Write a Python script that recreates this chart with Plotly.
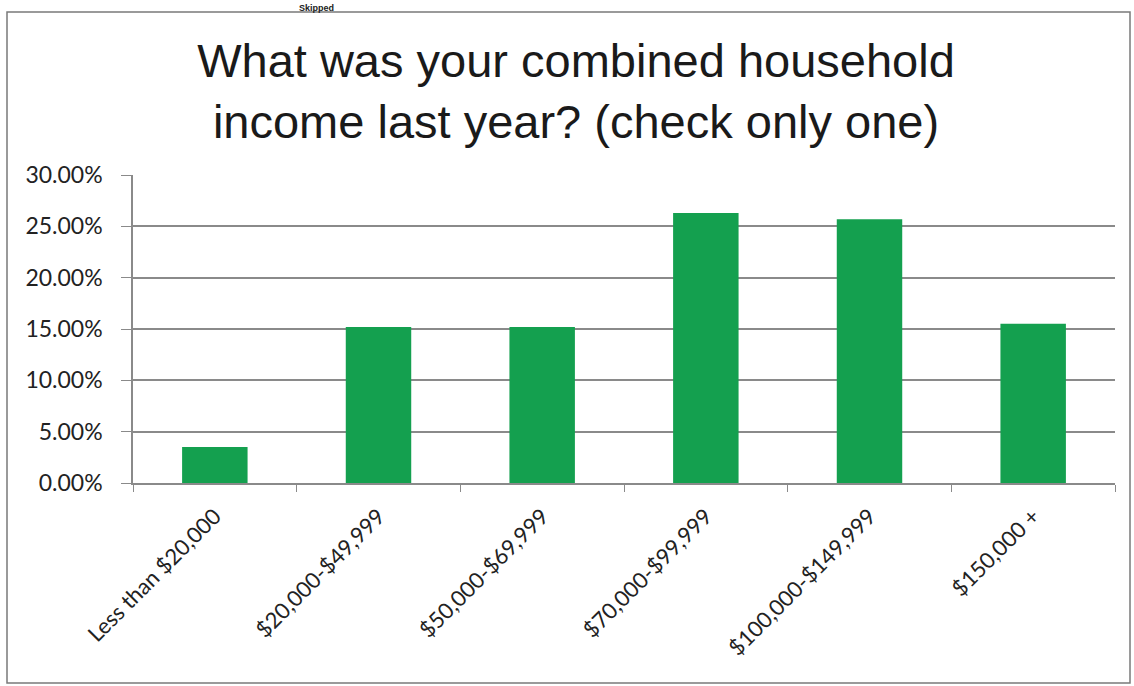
import plotly.graph_objects as go

categories = ["Less than $20,000", "$20,000-$49,999", "$50,000-$69,999",
              "$70,000-$99,999", "$100,000-$149,999", "$150,000 +"]
values = [0.035, 0.152, 0.152, 0.263, 0.257, 0.155]
y_ticks = [0, 0.05, 0.10, 0.15, 0.20, 0.25, 0.30]
title_text = "What was your combined household<br>income last year? (check only one)"

W, H = 1134, 686
L, R, T, B = 133, 19, 175, 203
pw, ph = W - L - R, H - T - B

def px_x(p):
    return (p - L) / pw

def px_y(p):
    return (H - B - p) / ph

fig = go.Figure(go.Bar(x=categories, y=values, marker=dict(color="#14A04F", line=dict(width=0)),
                       width=0.4))

fig.update_layout(
    width=W, height=H,
    margin=dict(l=L, r=R, t=T, b=B),
    paper_bgcolor="white", plot_bgcolor="white",
    showlegend=False,
    font=dict(family="Lato, Carlito, sans-serif", color="#222222"),
    title=dict(text=title_text, x=576 / W, xref="container", xanchor="center",
               y=1 - 77 / H, yanchor="middle",
               font=dict(family="Liberation Sans, Arial, sans-serif", size=47, color="#1a1a1a")),
    shapes=[dict(type="rect", xref="paper", yref="paper",
                 x0=px_x(7), x1=px_x(1130), y0=px_y(683), y1=px_y(12),
                 line=dict(color="#7a7a7a", width=1.5), layer="below")],
    annotations=[dict(text="<b>Skipped</b>", xref="paper", yref="paper",
                      x=px_x(316), y=px_y(1.5), xanchor="center", yanchor="top",
                      borderpad=0, showarrow=False,
                      font=dict(family="Liberation Sans, Arial", size=9, color="#222"))],
)

fig.update_yaxes(range=[0, 0.30], tickvals=y_ticks, tickformat=".2%",
                 showgrid=True, gridcolor="#8a8a8a", gridwidth=1.5,
                 showline=True, linecolor="#8a8a8a", linewidth=1.5,
                 ticks="outside", ticklen=10, tickcolor="#8a8a8a",
                 ticklabelstandoff=14,
                 tickfont=dict(size=23, color="#222"), zeroline=False, fixedrange=True)
fig.update_xaxes(tickangle=-45, tickson="boundaries", ticks="outside", ticklen=7,
                 tickcolor="#8a8a8a", showline=True, linecolor="#8a8a8a", linewidth=1.5,
                 ticklabelstandoff=10,
                 tickfont=dict(size=22, color="#222"), showgrid=False, fixedrange=True)

fig.write_html("out.html", config={"displayModeBar": False},
               post_script="document.body.style.margin='0';")
